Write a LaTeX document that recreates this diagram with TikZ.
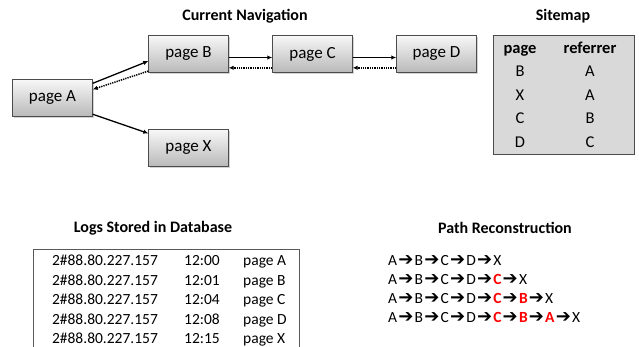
\documentclass[tikz,border=0pt]{standalone}
\usepackage{fontspec}
\setmainfont{Carlito}
\newfontfamily\symfont{DejaVu Sans}
\usetikzlibrary{arrows.meta,positioning,shadows}

\newcommand{\nxt}{\hspace{1.2pt}{\symfont\fontsize{18}{19}\selectfont ➔}\hspace{1.2pt}}
\newcommand{\rd}[1]{\textcolor{red}{\textbf{#1}}}

\begin{document}
\begin{tikzpicture}[x=1pt, y=-1pt,
    page/.style={draw=gray!60!black, top color=gray!6, bottom color=gray!55, minimum width=80pt, minimum height=37pt,
      font=\fontsize{17}{19}\selectfont, drop shadow={opacity=0.35, shadow xshift=1.5pt, shadow yshift=-1.5pt}},
    title/.style={font=\bfseries\fontsize{16}{18}\selectfont},
    cell/.style={anchor=base, font=\fontsize{16.5}{18}\selectfont, inner sep=0pt},
    head/.style={cell, font=\bfseries\fontsize{16.5}{18}\selectfont},
    logcell/.style={cell, font=\fontsize{15.5}{17}\selectfont},
    pathrow/.style={cell, anchor=base west, font=\fontsize{15.5}{17}\selectfont},
    fwd/.style={-{Latex[length=5pt,width=4.5pt]}, line width=1.3pt},
    back/.style={fwd, densely dotted, line width=1.5pt}
  ]
    \useasboundingbox (0,0) rectangle (639,347);

    % navigation
    \node[title] (navTitle) at (245,16) {Current Navigation};
    \node[page] (pageA) at (52.5,98) {page A};
    \node[page] (pageB) at (188.5,54) {page B};
    \node[page] (pageC) at (312.5,54) {page C};
    \node[page] (pageD) at (436.5,54) {page D};
    \node[page] (pageX) at (188.5,148) {page X};
    \draw[fwd] (pageA.20) -- (pageB.190);
    \draw[back] (pageB.203) -- (pageA.12);
    \draw[fwd] (pageA.338) -- (pageX.160);
    \draw[fwd] (pageB.355) -- (pageC.185);
    \draw[back] (pageC.199) -- (pageB.341);
    \draw[fwd] (pageC.355) -- (pageD.185);
    \draw[back] (pageD.199) -- (pageC.341);

    % sitemap
    \node[title] (mapTitle) at (563,16) {Sitemap};
    \node[draw=gray!60!black, fill=gray!30, minimum width=141pt, minimum height=119pt,
      drop shadow={opacity=0.25, shadow xshift=1pt, shadow yshift=-1pt}] (sitemap) at (563.5,94.5) {};
    \node[head] (mapPage) at (520,53.5) {page};
    \node[head] (mapRef) at (590,53.5) {referrer};
    \node[cell] (p1) at (520,77) {B};    \node[cell] (r1) at (590,77) {A};
    \node[cell] (p2) at (520,100.5) {X}; \node[cell] (r2) at (590,100.5) {A};
    \node[cell] (p3) at (520,124) {C};   \node[cell] (r3) at (590,124) {B};
    \node[cell] (p4) at (520,147.5) {D}; \node[cell] (r4) at (590,147.5) {C};

    % logs
    \node[title] (logTitle) at (153,228) {Logs Stored in Database};
    \draw[gray!70!black] (33,347) -- (33,249) -- (299,249) -- (299,347);
    \node[logcell] (ip1) at (105,265.5) {2\#88.80.227.157}; \node[logcell] (t1) at (202,265.5) {12:00}; \node[logcell, anchor=base west] (l1) at (243,265.5) {page A};
    \node[logcell] (ip2) at (105,285) {2\#88.80.227.157}; \node[logcell] (t2) at (202,285) {12:01}; \node[logcell, anchor=base west] (l2) at (243,285) {page B};
    \node[logcell] (ip3) at (105,304.5) {2\#88.80.227.157}; \node[logcell] (t3) at (202,304.5) {12:04}; \node[logcell, anchor=base west] (l3) at (243,304.5) {page C};
    \node[logcell] (ip4) at (105,324) {2\#88.80.227.157}; \node[logcell] (t4) at (202,324) {12:08}; \node[logcell, anchor=base west] (l4) at (243,324) {page D};
    \node[logcell] (ip5) at (105,343.5) {2\#88.80.227.157}; \node[logcell] (t5) at (202,343.5) {12:15}; \node[logcell, anchor=base west] (l5) at (243,343.5) {page X};

    % path reconstruction
    \node[title] (pathTitle) at (505,228) {Path Reconstruction};
    \node[pathrow] (path1) at (388,265.5) {A\nxt B\nxt C\nxt D\nxt X};
    \node[pathrow] (path2) at (388,284.5) {A\nxt B\nxt C\nxt D\nxt \rd{C}\nxt X};
    \node[pathrow] (path3) at (388,303.5) {A\nxt B\nxt C\nxt D\nxt \rd{C}\nxt \rd{B}\nxt X};
    \node[pathrow] (path4) at (388,322.5) {A\nxt B\nxt C\nxt D\nxt \rd{C}\nxt \rd{B}\nxt \rd{A}\nxt X};
\end{tikzpicture}
\end{document}
